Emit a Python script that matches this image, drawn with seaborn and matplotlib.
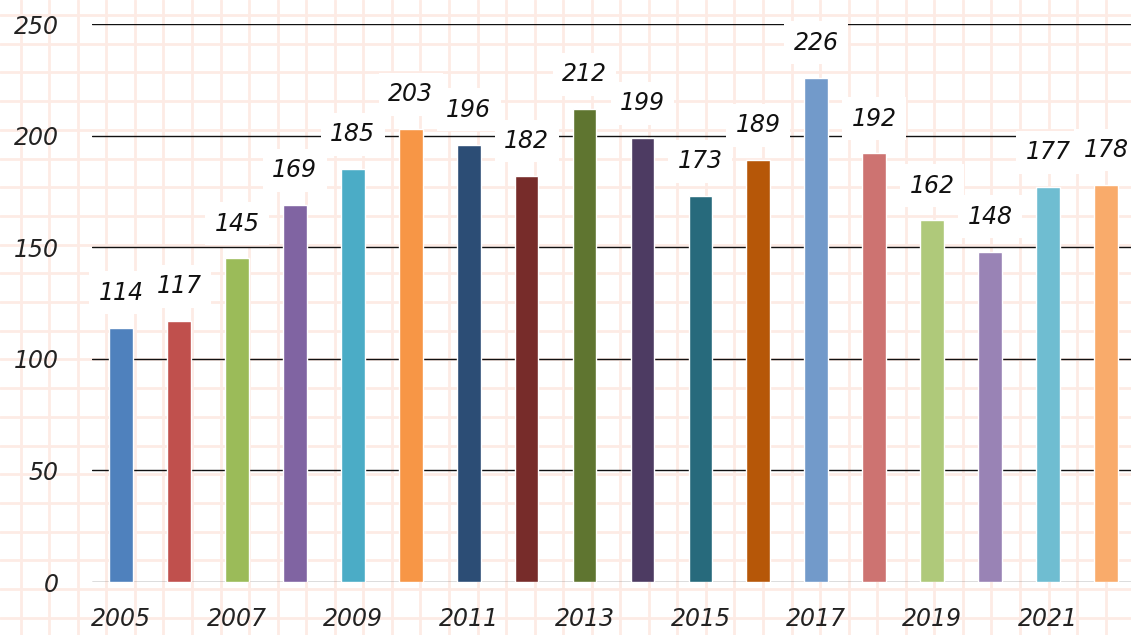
import matplotlib
matplotlib.use("Agg")
import matplotlib.pyplot as plt
import seaborn as sns
import pandas as pd
import numpy as np

years = [str(y) for y in range(2005, 2023)]
values = [114, 117, 145, 169, 185, 203, 196, 182, 212, 199, 173, 189, 226, 192, 162, 148, 177, 178]
colors = ["#4f81bd", "#c0504d", "#9bbb59", "#8064a2", "#4bacc6", "#f79646",
          "#2c4d75", "#772c2a", "#5f7530", "#4d3b62", "#276a7c", "#b65708",
          "#729aca", "#cd7371", "#afc97a", "#9983b5", "#6fbdd1", "#f9ab6b"]
y_ticks = [0, 50, 100, 150, 200, 250]

sns.set_theme(style="white")
plt.rcParams["font.family"] = ["DejaVu Sans"]
font_kw = dict(family="DejaVu Sans", style="oblique", weight="light")

W, H = 1131, 635
fig = plt.figure(figsize=(W / 100, H / 100), dpi=100)
fig.patch.set_facecolor("white")

# graph-paper background
bg = fig.add_axes([0, 0, 1, 1], zorder=0)
bg.set_xlim(0, W)
bg.set_ylim(H, 0)
bg.axis("off")
grid_color = "#fdebe5"
for gx in np.arange(20.7, W, 28.55):
    bg.axvline(gx, color=grid_color, lw=2.0)
for gy in np.arange(15.0, H, 28.7):
    bg.axhline(gy, color=grid_color, lw=2.0)

ax = fig.add_axes([92 / W, 53 / H, (1135 - 92) / W, (611 - 53) / H], zorder=1)
ax.patch.set_alpha(0)

df = pd.DataFrame({"year": years, "value": values})
sns.barplot(data=df, x="year", y="value", hue="year", palette=colors,
            width=0.41, legend=False, ax=ax, saturation=1, zorder=3)

ax.set_xlim(-0.5, 17.5)
ax.set_ylim(0, 250)
ax.set_yticks(y_ticks)
ax.set_yticklabels([str(t) for t in y_ticks], fontsize=17, color="#222222", **font_kw)
ax.set_xticks(range(len(years)))
ax.set_xticklabels([y if i % 2 == 0 else "" for i, y in enumerate(years)],
                   fontsize=17, color="#222222", **font_kw)
ax.tick_params(axis="y", length=0, pad=24)
ax.tick_params(axis="x", length=0, pad=18)
ax.set_xlabel("")
ax.set_ylabel("")
for s in ax.spines.values():
    s.set_visible(False)
for t in y_ticks:
    ax.axhline(t, color="#555555" if t == 0 else "#111111", lw=1.0, zorder=2)

for i, v in enumerate(values):
    ax.annotate(str(v), xy=(i, v), xytext=(0, 25), textcoords="offset points",
                ha="center", va="center", fontsize=17, color="#111111",
                bbox=dict(boxstyle="square,pad=0.4", fc="white", ec="none"),
                zorder=5, **font_kw)

fig.savefig("out.png", dpi=100)
